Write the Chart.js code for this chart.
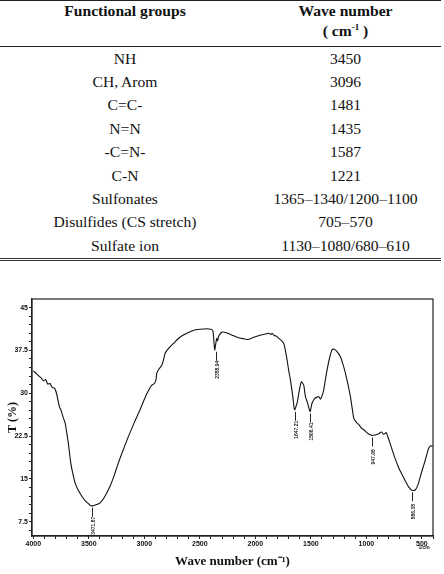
<!DOCTYPE html>
<html>
<head>
<meta charset="utf-8">
<script src="https://cdn.jsdelivr.net/npm/chart.js@4"></script>
<style>
  body { margin: 0; background: #fff; width: 444px; height: 574px; position: relative; overflow: hidden; }
  #tbl { position: absolute; left: 0; top: 0; width: 441px; border-collapse: collapse; color: #111; }
  #tbl th, #tbl td { font-family: "Liberation Serif", "Times New Roman", "DejaVu Serif", serif; font-size: 15.6px; }
  #tbl th { font-weight: bold; height: 44px; padding: 1px 0 0 0; line-height: 17px; vertical-align: top;
            border-top: 1px solid #222; border-bottom: 1px solid #222; }
  #tbl td { text-align: center; height: 23.4px; padding: 0; }
  #tbl tr:last-child td { border-bottom: 3px double #333; }
  #tbl sup { font-size: 9px; }
  #chartBox { position: absolute; left: 0; top: 290px; }
</style>
</head>
<body>
<table id="tbl">
  <thead>
    <tr><th style="width:250px">Functional groups</th><th>Wave number<br>( cm<sup>-1</sup> )</th></tr>
  </thead>
  <tbody id="rows"></tbody>
</table>
<div id="chartBox"><canvas id="myChart" width="444" height="284"></canvas></div>
<script>
// tabla de grupos funcionales
const groups = ['NH', 'CH, Arom', 'C=C-', 'N=N', '-C=N-', 'C-N', 'Sulfonates', 'Disulfides (CS stretch)', 'Sulfate ion'];
const waveNumbers = ['3450', '3096', '1481', '1435', '1587', '1221', '1365–1340/1200–1100', '705–570', '1130–1080/680–610'];

// espectro IR
const wavenumber = [4000, 3970, 3950, 3930, 3910, 3890, 3870, 3850, 3830, 3810, 3796, 3780, 3770, 3760, 3750, 3735, 3714, 3700, 3685, 3663,
  3645, 3624, 3600, 3564, 3530, 3500, 3483, 3460, 3430, 3399, 3360, 3309, 3270, 3234, 3190, 3144, 3090, 3039, 2990, 2950,
  2933, 2910, 2895, 2888, 2870, 2843, 2825, 2813, 2780, 2739, 2680, 2618, 2560, 2498, 2440, 2400, 2384, 2375, 2366, 2358,
  2348, 2340, 2330, 2300, 2250, 2200, 2150, 2120, 2075, 2040, 2000, 1950, 1900, 1879, 1860, 1850, 1830, 1810, 1789, 1770,
  1744, 1730, 1714, 1700, 1684, 1663, 1650, 1645, 1635, 1624, 1603, 1590, 1585, 1575, 1564, 1549, 1530, 1515, 1506, 1495,
  1489, 1465, 1445, 1429, 1413, 1395, 1384, 1370, 1354, 1330, 1309, 1290, 1270, 1234, 1210, 1189, 1160, 1144, 1125, 1113,
  1090, 1068, 1045, 1023, 990, 948, 920, 888, 864, 843, 822, 800, 768, 740, 708, 680, 648, 620, 588, 558,
  535, 513, 490, 468, 450, 438, 420, 402];
const transmittance = [33.9, 33.4, 33.0, 32.7, 32.2, 32.4, 31.6, 31.7, 31.0, 30.9, 30.3, 29.0, 28.0, 27.4, 27.0, 26.0, 24.8, 23.2, 21.3, 17.8,
  16.0, 14.3, 13.2, 12.0, 11.1, 10.6, 10.3, 10.3, 10.5, 10.8, 11.8, 13.7, 15.7, 17.8, 20.1, 22.4, 24.9, 27.1, 29.4, 30.9,
  31.4, 31.7, 32.4, 33.5, 34.2, 34.9, 36.0, 37.0, 37.9, 38.7, 39.8, 40.5, 41.0, 41.2, 41.3, 41.2, 41.0, 39.5, 37.6, 38.5,
  39.6, 39.2, 40.0, 40.7, 40.5, 40.1, 39.7, 39.6, 39.4, 39.6, 39.9, 40.2, 40.4, 40.5, 40.3, 40.5, 40.1, 40.0, 39.6, 39.3,
  38.7, 37.5, 35.8, 34.0, 32.3, 29.4, 27.3, 27.1, 27.6, 28.3, 30.6, 31.8, 32.0, 31.8, 31.4, 29.4, 28.3, 27.2, 26.8, 27.8,
  28.3, 29.1, 29.3, 29.4, 29.0, 29.8, 30.6, 32.3, 34.1, 36.3, 37.6, 37.7, 37.4, 36.4, 35.0, 33.5, 31.0, 29.4, 27.0, 25.6,
  24.9, 24.5, 23.9, 23.6, 23.0, 22.6, 22.7, 22.9, 23.2, 22.8, 23.1, 22.0, 20.1, 18.5, 16.9, 15.8, 14.6, 13.6, 13.0, 13.1,
  14.0, 15.5, 17.0, 18.4, 19.7, 20.4, 20.8, 20.7];

// picos marcados
const peakX = [3471.87, 2358.94, 1647.21, 1506.41, 947.08, 586.38];
const peakY = [10.3, 37.6, 27.1, 26.8, 22.6, 13.0];
const peakLabels = ['3471.87', '2358.94', '1647.21', '1506.41', '947.08', '586.38'];

// marcas de los ejes
const xTickLabels = [4000, 3500, 3000, 2500, 2000, 1500, 1000, 500];
const yTickLabels = [7.5, 15, 22.5, 30, 37.5, 45];

document.addEventListener('DOMContentLoaded', () => {
    const tbody = document.getElementById('rows');
    tbody.innerHTML = groups.map((g, i) => `<tr><td>${g}</td><td>${waveNumbers[i]}</td></tr>`).join('');

    const isMajor = (v, list) => list.some(t => Math.abs(t - v) < 1e-6);

    // marco y anotaciones de picos
    const spectrumExtras = {
        id: 'spectrumExtras',
        afterDraw(chart) {
            const { ctx, chartArea, scales } = chart;
            ctx.save();
            ctx.strokeStyle = '#222';
            ctx.lineWidth = 1.2;
            ctx.strokeRect(chartArea.left, chartArea.top, chartArea.right - chartArea.left, chartArea.bottom - chartArea.top);

            ctx.fillStyle = '#222';
            ctx.lineWidth = 1;
            ctx.font = 'bold 5px "Liberation Sans", Arial, sans-serif';
            peakX.forEach((x, i) => {
                const px = Math.round(scales.x.getPixelForValue(x)) + 0.5;
                const py = scales.y.getPixelForValue(peakY[i]);
                ctx.beginPath();
                ctx.moveTo(px, py + 2);
                ctx.lineTo(px, py + 11);
                ctx.stroke();
                ctx.save();
                ctx.translate(px + 2, py + 29);
                ctx.rotate(-Math.PI / 2);
                ctx.textAlign = 'left';
                ctx.fillText(peakLabels[i], 0, 0);
                ctx.restore();
            });

            // unidad bajo la marca de 500
            ctx.textAlign = 'center';
            ctx.fillText('1/cm', scales.x.getPixelForValue(480), chartArea.bottom + 13);
            ctx.restore();
        }
    };

    const ctx = document.getElementById('myChart').getContext('2d');
    new Chart(ctx, {
        type: 'line',
        data: {
            datasets: [{
                data: wavenumber.map((w, i) => ({ x: w, y: transmittance[i] })),
                borderColor: '#111',
                borderWidth: 1.1,
                pointRadius: 0,
                tension: 0.25,
                fill: false
            }]
        },
        options: {
            responsive: false,
            devicePixelRatio: 1,
            animation: false,
            layout: { padding: { top: 9, right: 11, left: 0, bottom: 0 } },
            plugins: { legend: { display: false }, tooltip: { enabled: false } },
            scales: {
                x: {
                    type: 'linear',
                    reverse: true,
                    min: 400,
                    max: 4012,
                    afterFit: s => { s.height = 38; },
                    afterBuildTicks: s => {
                        const t = [];
                        for (let v = 4000; v >= 400; v -= 100) t.push({ value: v });
                        s.ticks = t;
                    },
                    ticks: {
                        autoSkip: false,
                        maxRotation: 0,
                        padding: 1,
                        color: '#111',
                        font: { family: '"Liberation Sans", Arial, sans-serif', size: 7, weight: 'bold' },
                        callback: v => isMajor(v, xTickLabels) ? String(v) : ''
                    },
                    grid: { drawOnChartArea: false, tickLength: 3, color: '#222' },
                    border: { color: '#222', width: 1.2 },
                    title: {
                        display: true,
                        text: 'Wave number (cm⁻¹)',
                        color: '#111',
                        padding: { top: 0, bottom: 5 },
                        font: { family: '"Liberation Serif", serif', size: 13, weight: 'bold' }
                    }
                },
                y: {
                    min: 5,
                    max: 46.5,
                    afterFit: s => { s.width = 32; },
                    afterBuildTicks: s => {
                        const t = [];
                        for (let k = 4; k <= 30; k++) t.push({ value: k * 1.5 });
                        s.ticks = t;
                    },
                    ticks: {
                        autoSkip: false,
                        padding: 1,
                        color: '#111',
                        font: { family: '"Liberation Sans", Arial, sans-serif', size: 7, weight: 'bold' },
                        callback: v => isMajor(v, yTickLabels) ? String(v) : ''
                    },
                    grid: { drawOnChartArea: false, tickLength: 3, color: '#222' },
                    border: { color: '#222', width: 1.2 },
                    title: {
                        display: true,
                        text: 'T (%)',
                        color: '#111',
                        padding: { top: 6, bottom: 0 },
                        font: { family: '"Liberation Serif", serif', size: 12, weight: 'bold' }
                    }
                }
            }
        },
        plugins: [spectrumExtras]
    });
});
</script>
</body>
</html>
